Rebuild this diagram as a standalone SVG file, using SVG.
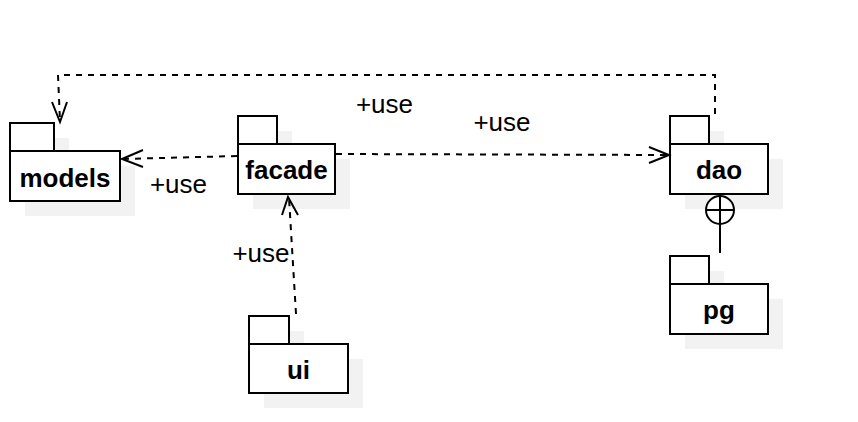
<svg xmlns="http://www.w3.org/2000/svg" width="858" height="422" viewBox="0 0 858 422">
<style>
.sh{fill:#f2f2f2;stroke:none}
.bx{fill:#fff;stroke:#000;stroke-width:2}
.nm{font-family:"Liberation Sans",Arial,sans-serif;font-size:26px;font-weight:bold;text-anchor:middle;fill:#000}
.lb{font-family:"Liberation Sans",Arial,sans-serif;font-size:26px;text-anchor:middle;fill:#000}
.dash{fill:none;stroke:#000;stroke-width:2;stroke-dasharray:6 6}
.arr{fill:none;stroke:#000;stroke-width:2}
</style>
<rect width="858" height="422" fill="#fff"/>
<g id="models">
<rect class="sh" x="25" y="138" width="44" height="28"/><rect class="sh" x="25" y="166" width="110" height="50"/>
<rect class="bx" x="10" y="123" width="44" height="28"/><rect class="bx" x="10" y="151" width="110" height="50"/>
<text class="nm" x="65" y="187">models</text>
</g>
<g id="facade">
<rect class="sh" x="253" y="131" width="39" height="28"/><rect class="sh" x="253" y="159" width="97" height="50"/>
<rect class="bx" x="238" y="116" width="39" height="28"/><rect class="bx" x="238" y="144" width="97" height="50"/>
<text class="nm" x="286.5" y="179">facade</text>
</g>
<g id="dao">
<rect class="sh" x="685" y="131" width="39" height="28"/><rect class="sh" x="685" y="159" width="98" height="50"/>
<rect class="bx" x="670" y="116" width="39" height="28"/><rect class="bx" x="670" y="144" width="98" height="50"/>
<text class="nm" x="719" y="179">dao</text>
</g>
<g id="pg">
<rect class="sh" x="685" y="271" width="39" height="28"/><rect class="sh" x="685" y="299" width="98" height="50"/>
<rect class="bx" x="670" y="256" width="39" height="28"/><rect class="bx" x="670" y="284" width="98" height="50"/>
<text class="nm" x="719" y="319">pg</text>
</g>
<g id="ui">
<rect class="sh" x="264" y="331" width="40" height="28"/><rect class="sh" x="264" y="359" width="99" height="49"/>
<rect class="bx" x="249" y="316" width="40" height="28"/><rect class="bx" x="249" y="344" width="99" height="49"/>
<text class="nm" x="298.5" y="379">ui</text>
</g>
<g id="connectors">
<path class="dash" d="M715,114 L715,75 L58,75 L60,121"/>
<path class="arr" d="M52,102 L60,122 L67,102"/>
<path class="dash" d="M237,156 L123,159"/>
<path class="arr" d="M143,150 L122,159 L143,167"/>
<path class="dash" d="M336,154 L667,155"/>
<path class="arr" d="M649,147 L669,155 L649,163"/>
<path class="dash" d="M296,314 L289,198"/>
<path class="arr" d="M282,215 L288,197 L298,215"/>
<circle cx="720" cy="210" r="14" fill="#fff" stroke="#000" stroke-width="2"/>
<path class="arr" d="M706,210 L734,210 M720,196 L720,253"/>
<text class="lb" x="384.5" y="113">+use</text>
<text class="lb" x="502" y="131">+use</text>
<text class="lb" x="178.5" y="193">+use</text>
<text class="lb" x="261" y="262">+use</text>
</g>
</svg>
